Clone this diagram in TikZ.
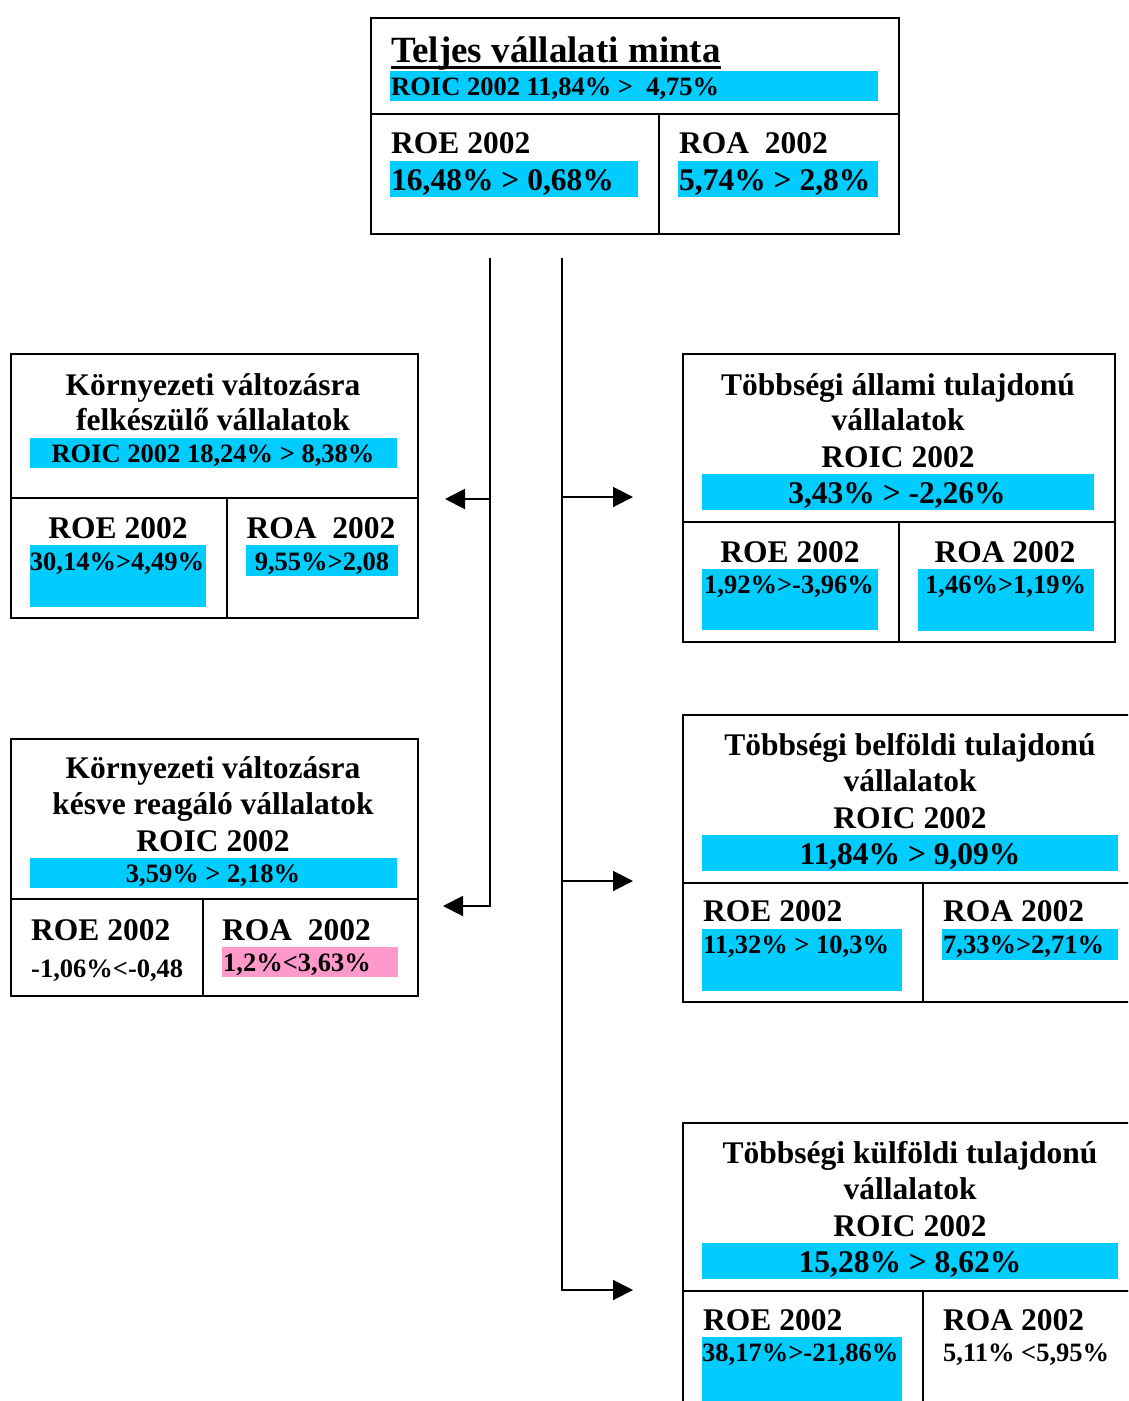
\documentclass[tikz,border=0pt]{standalone}
\usepackage{fontspec}
\setmainfont{Liberation Serif}
\usetikzlibrary{arrows.meta}
\definecolor{roiccyan}{RGB}{0,204,255}
\definecolor{lowpink}{RGB}{255,153,204}
\tikzset{
  cell/.style={draw, line width=2pt, inner sep=0pt, anchor=north west},
  bar/.style={fill=#1, inner sep=0pt, anchor=north west},
  bar/.default=roiccyan,
  huge/.style={font=\fontsize{37}{40}\selectfont\bfseries, inner sep=0pt},
  big/.style={font=\fontsize{31.5}{36}\selectfont\bfseries, inner sep=0pt},
  small/.style={font=\fontsize{26.5}{30}\selectfont\bfseries, inner sep=0pt},
  link/.style={line width=2pt},
  arr/.style={line width=2pt, -{Triangle[length=20pt,width=20pt]}}
}
\newcommand{\cellbox}[5]{\node[cell, minimum width=#3pt, minimum height=#4pt] (#1) at (#2) {#5};}
\newcommand{\fillbar}[5][roiccyan]{\node[bar=#1, minimum width=#4pt, minimum height=#5pt] (#2) at (#3) {};}
\begin{document}
\begin{tikzpicture}[x=1pt,y=-1pt]
\clip (0,0) rectangle (1128,1401);

% ---- whole sample ----
\cellbox{topHead}{370,17}{528}{96}{}
\cellbox{topRoe}{370,113}{288}{120}{}
\cellbox{topRoa}{658,113}{240}{120}{}
\node[huge, anchor=base west] (topTitle) at (391,62) {Teljes vállalati minta};
\draw[line width=3pt] ([yshift=-5pt]topTitle.base west) -- ([yshift=-5pt]topTitle.base east);
\fillbar{topBar}{390,71}{488}{30}
\node[small, anchor=base west] (topRoic) at (391,95) {ROIC 2002 11,84\% >~ 4,75\%};
\node[big, anchor=base west] (topRoeT) at (391,153) {ROE 2002};
\fillbar{topRoeBar}{390,161}{248}{36}
\node[big, anchor=base west] (topRoeV) at (391,190) {16,48\% > 0,68\%};
\node[big, anchor=base west] (topRoaT) at (679,153) {ROA~ 2002};
\fillbar{topRoaBar}{678,161}{200}{36}
\node[big, anchor=base west] (topRoaV) at (679,190) {5,74\% > 2,8\%};

% ---- prepared companies ----
\cellbox{laHead}{10,353}{407}{144}{}
\cellbox{laRoe}{10,497}{216}{120}{}
\cellbox{laRoa}{226,497}{191}{120}{}
\node[big, anchor=base] (laT1) at (213,395) {Környezeti változásra};
\node[big, anchor=base] (laT2) at (213,430) {felkészülő vállalatok};
\fillbar{laBar}{30,438}{367}{30}
\node[small, anchor=base] (laRoic) at (213,462) {ROIC 2002 18,24\% > 8,38\%};
\node[big, anchor=base] (laRoeT) at (118,538) {ROE 2002};
\fillbar{laRoeBar}{30,545}{176}{62}
\node[small, anchor=base] (laRoeV) at (117,570) {30,14\%>4,49\%};
\node[big, anchor=base] (laRoaT) at (321,538) {ROA~ 2002};
\fillbar{laRoaBar}{246,545}{152}{31}
\node[small, anchor=base] (laRoaV) at (322,570) {9,55\%>2,08};

% ---- late reacting companies ----
\cellbox{lbHead}{10,738}{407}{160}{}
\cellbox{lbRoe}{10,898}{192}{97}{}
\cellbox{lbRoa}{202,898}{215}{97}{}
\node[big, anchor=base] (lbT1) at (213,778) {Környezeti változásra};
\node[big, anchor=base] (lbT2) at (213,814) {késve reagáló vállalatok};
\node[big, anchor=base] (lbT3) at (213,851) {ROIC 2002};
\fillbar{lbBar}{30,858}{367}{30}
\node[small, anchor=base] (lbRoic) at (213,882) {3,59\% > 2,18\%};
\node[big, anchor=base west] (lbRoeT) at (31,940) {ROE 2002};
\node[small, anchor=base west] (lbRoeV) at (31,977) {-1,06\%<-0,48};
\node[big, anchor=base west] (lbRoaT) at (222,940) {ROA~ 2002};
\fillbar[lowpink]{lbRoaBar}{222,947}{176}{30}
\node[small, anchor=base west] (lbRoaV) at (223,971) {1,2\%<3,63\%};

% ---- state owned ----
\cellbox{raHead}{682,353}{432}{168}{}
\cellbox{raRoe}{682,521}{216}{120}{}
\cellbox{raRoa}{898,521}{216}{120}{}
\node[big, anchor=base] (raT1) at (898,395) {Többségi állami tulajdonú};
\node[big, anchor=base] (raT2) at (898,430) {vállalatok};
\node[big, anchor=base] (raT3) at (898,467) {ROIC 2002};
\fillbar{raBar}{702,474}{392}{36}
\node[big, anchor=base] (raRoic) at (897,503) {3,43\% > -2,26\%};
\node[big, anchor=base] (raRoeT) at (790,562) {ROE 2002};
\fillbar{raRoeBar}{702,569}{176}{61}
\node[small, anchor=base west] (raRoeV) at (704,593) {1,92\%>-3,96\%};
\node[big, anchor=base] (raRoaT) at (1005,562) {ROA 2002};
\fillbar{raRoaBar}{918,569}{176}{62}
\node[small, anchor=base west] (raRoaV) at (925,593) {1,46\%>1,19\%};

% ---- domestic owned ----
\cellbox{rbHead}{682,714}{470}{168}{}
\cellbox{rbRoe}{682,882}{240}{119}{}
\cellbox{rbRoa}{922,882}{230}{119}{}
\node[big, anchor=base] (rbT1) at (910,755) {Többségi belföldi tulajdonú};
\node[big, anchor=base] (rbT2) at (910,791) {vállalatok};
\node[big, anchor=base] (rbT3) at (910,828) {ROIC 2002};
\fillbar{rbBar}{702,835}{416}{36}
\node[big, anchor=base] (rbRoic) at (910,864) {11,84\% > 9,09\%};
\node[big, anchor=base west] (rbRoeT) at (703,921) {ROE 2002};
\fillbar{rbRoeBar}{702,929}{200}{62}
\node[small, anchor=base west] (rbRoeV) at (703,953) {11,32\% > 10,3\%};
\node[big, anchor=base west] (rbRoaT) at (943,921) {ROA 2002};
\fillbar{rbRoaBar}{942,929}{176}{31}
\node[small, anchor=base west] (rbRoaV) at (943,953) {7,33\%>2,71\%};

% ---- foreign owned ----
\cellbox{rcHead}{682,1122}{470}{168}{}
\cellbox{rcRoe}{682,1290}{240}{140}{}
\cellbox{rcRoa}{922,1290}{230}{140}{}
\node[big, anchor=base] (rcT1) at (910,1163) {Többségi külföldi tulajdonú};
\node[big, anchor=base] (rcT2) at (910,1199) {vállalatok};
\node[big, anchor=base] (rcT3) at (910,1236) {ROIC 2002};
\fillbar{rcBar}{702,1243}{416}{36}
\node[big, anchor=base] (rcRoic) at (910,1272) {15,28\% > 8,62\%};
\node[big, anchor=base west] (rcRoeT) at (703,1330) {ROE 2002};
\fillbar{rcRoeBar}{702,1337}{200}{64}
\node[small, anchor=base west] (rcRoeV) at (702,1361) {38,17\%>-21,86\%};
\node[big, anchor=base west] (rcRoaT) at (943,1330) {ROA 2002};
\node[small, anchor=base west] (rcRoaV) at (943,1361) {5,11\% <5,95\%};

% ---- connectors ----
\coordinate (trunkL) at (490,258);
\coordinate (trunkR) at (562,258);
\coordinate (tipLa) at ([xshift=26pt]laHead.south east);
\coordinate (tipLb) at (443,906);
\coordinate (tipRa) at (633,497);
\coordinate (tipRb) at (633,881);
\coordinate (tipRc) at (633,1290);
\draw[arr] (trunkL) |- (tipLb);
\draw[arr] (trunkL |- tipLa) -- (tipLa);
\draw[arr] (trunkR) |- (tipRc);
\draw[arr] (trunkR |- tipRa) -- (tipRa);
\draw[arr] (trunkR |- tipRb) -- (tipRb);
\end{tikzpicture}
\end{document}
